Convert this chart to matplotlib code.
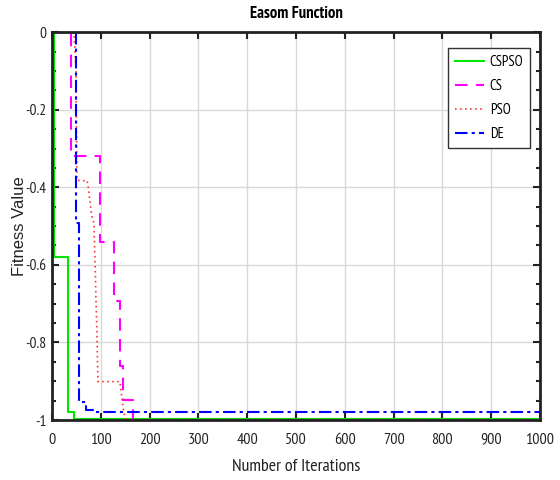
import matplotlib
matplotlib.use("Agg")
import matplotlib.pyplot as plt
from matplotlib.ticker import MultipleLocator
import logging
logging.getLogger('matplotlib.font_manager').setLevel(logging.ERROR)

NARROW = ['Liberation Sans Narrow', 'Arial Narrow', 'PT Sans Narrow', 'Roboto Condensed',
          'Archivo Narrow', 'Liberation Sans', 'DejaVu Sans']
plt.rcParams['font.family'] = NARROW

# CSPSO (green solid)
cspso_x = [0, 4, 4, 33, 33, 44, 44, 1000]
cspso_y = [0, 0, -0.579, -0.579, -0.979, -0.979, -0.998, -0.998]

# CS (magenta dashed)
cs_x = [0, 39, 39, 98, 98, 126, 126, 139, 139, 145, 145, 165, 165, 1000]
cs_y = [0, 0, -0.319, -0.319, -0.542, -0.542, -0.692, -0.692, -0.862, -0.862, -0.948, -0.948, -1.0, -1.0]

# PSO (red dotted)
pso_x = [0, 40, 45, 49, 51, 57, 72, 74, 78, 81, 85, 86, 88, 90, 92, 94, 139, 147, 153, 1000]
pso_y = [0, 0, -0.003, -0.1, -0.381, -0.383, -0.383, -0.399, -0.441, -0.472, -0.489, -0.50, -0.588, -0.69, -0.776, -0.901, -0.901, -0.982, -1.0, -1.0]

# DE (blue dash-dot)
de_x = [0, 50, 50, 56, 56, 70, 70, 88, 88, 1000]
de_y = [0, 0, -0.493, -0.493, -0.953, -0.953, -0.974, -0.974, -0.979, -0.979]

y_ticks = [0, -0.2, -0.4, -0.6, -0.8, -1.0]
y_ticklabels = ['0', '-0.2', '-0.4', '-0.6', '-0.8', '-1']

fig = plt.figure(figsize=(5.6, 4.8), dpi=100)
ax = fig.add_axes([0.093, 0.125, 0.871, 0.808])

ax.plot(cspso_x, cspso_y, color='#00e600', lw=1.5, ls='-', label='CSPSO')
ax.plot(cs_x, cs_y, color='#ff00ff', lw=1.5, ls=(0, (6, 4)), label='CS')
ax.plot(pso_x, pso_y, color='#ff3838', lw=1.2, ls=(0, (1, 2)), label='PSO')
ax.plot(de_x, de_y, color='#0000ff', lw=1.5, ls=(0, (6, 2, 1.5, 2)), label='DE')

ax.set_xlim(0, 1000)
ax.set_ylim(-1, 0)
ax.xaxis.set_major_locator(MultipleLocator(100))
ax.yaxis.set_minor_locator(MultipleLocator(0.05))
ax.set_yticks(y_ticks)
ax.set_yticklabels(y_ticklabels)
ax.grid(True, which='major', color='#d9d9d9', lw=1.0)
ax.set_axisbelow(True)
ax.tick_params(which='both', direction='in', top=True, right=True, labelsize=11.5, colors='#222222')
ax.tick_params(axis='y', labelsize=11)
ax.tick_params(which='major', length=5, width=1.5)
ax.tick_params(which='minor', length=3, width=1.5)
ax.tick_params(axis='x', pad=9)
ax.tick_params(axis='y', pad=4)
for s in ax.spines.values():
    s.set_linewidth(2)
    s.set_color('#222222')

ax.set_title('Easom Function', fontsize=12, fontweight='bold', pad=10)
ax.set_xlabel('Number of Iterations', fontsize=13, color='#222222', labelpad=9)
ax.set_ylabel('Fitness Value', fontsize=12, family=['Liberation Sans', 'DejaVu Sans'],
              color='#222222', labelpad=-1)

leg = ax.legend(loc='upper right', bbox_to_anchor=(0.9795, 0.959), fontsize=10.5,
                fancybox=False, framealpha=1, edgecolor='#333333',
                handlelength=2.0, handletextpad=0.4, borderpad=0.45, labelspacing=0.7,
                borderaxespad=0)
leg.get_frame().set_linewidth(1.0)

fig.savefig('out.png', dpi=100)
